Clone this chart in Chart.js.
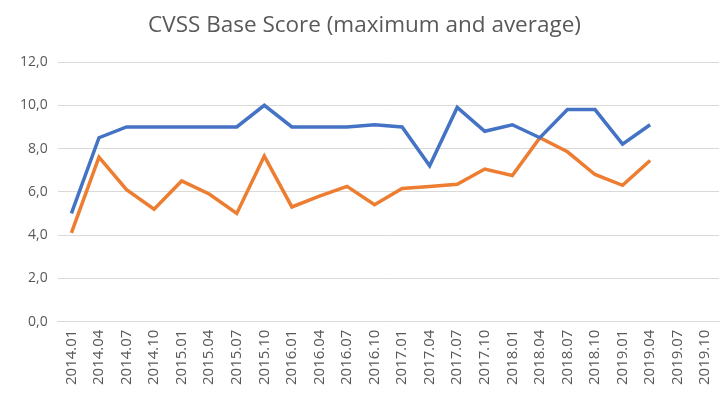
<!DOCTYPE html>
<html><head><meta charset="utf-8">
<script src="https://cdn.jsdelivr.net/npm/chart.js@4/dist/chart.umd.min.js"></script>
<style>html,body{margin:0;padding:0;background:#fff}#wrap{width:724px;height:393px}</style>
</head><body><div id="wrap"><canvas id="c" width="724" height="393"></canvas></div>
<script>
const categories = ["2014.01","2014.04","2014.07","2014.10","2015.01","2015.04","2015.07","2015.10","2016.01","2016.04","2016.07","2016.10","2017.01","2017.04","2017.07","2017.10","2018.01","2018.04","2018.07","2018.10","2019.01","2019.04","2019.07","2019.10"];
const maxScores = [5.0,8.5,9.0,9.0,9.0,9.0,9.0,10.0,9.0,9.0,9.0,9.1,9.0,7.2,9.9,8.8,9.1,8.5,9.8,9.8,8.2,9.1,null,null];
const avgScores = [4.1,7.6,6.1,5.2,6.5,5.9,5.0,7.65,5.3,5.8,6.25,5.4,6.15,6.25,6.35,7.05,6.75,8.5,7.85,6.8,6.3,7.45,null,null];
const yTicks = [0,2,4,6,8,10,12];
const titleText = "CVSS Base Score (maximum and average)";

new Chart(document.getElementById('c'), {
  type: 'line',
  data: {
    labels: categories,
    datasets: [
      {label:'maximum', data:maxScores, borderColor:'#4472C4', backgroundColor:'#4472C4', borderWidth:3.5, pointRadius:0, tension:0, spanGaps:false},
      {label:'average', data:avgScores, borderColor:'#ED7D31', backgroundColor:'#ED7D31', borderWidth:3.5, pointRadius:0, tension:0, spanGaps:false}
    ]
  },
  options: {
    responsive:false, animation:false,
    layout:{padding:{left:10,right:5,top:8,bottom:0}},
    plugins:{
      legend:{display:false},
      tooltip:{enabled:false},
      title:{display:true,text:titleText,color:'#595959',font:{family:'"Open Sans", sans-serif',size:22.5,weight:'normal'},padding:{top:4,bottom:23}}
    },
    scales:{
      x:{offset:true,
        afterFit:(s)=>{s.paddingLeft=0;s.paddingRight=0;},
        grid:{display:false,drawTicks:false},
        border:{display:true,color:'#d9d9d9'},
        ticks:{color:'#595959',font:{family:'"Open Sans", sans-serif',size:15},minRotation:90,maxRotation:90,autoSkip:false,padding:8}
      },
      y:{min:0,max:12,
        afterBuildTicks:(ax)=>{ax.ticks = yTicks.map(v=>({value:v}));},
        grid:{color:'#d9d9d9',drawTicks:false},
        border:{display:false},
        ticks:{color:'#595959',font:{family:'"Open Sans", sans-serif',size:14},padding:10,
          callback:(v)=>v.toFixed(1).replace('.',',')}
      }
    }
  }
});
</script></body></html>
